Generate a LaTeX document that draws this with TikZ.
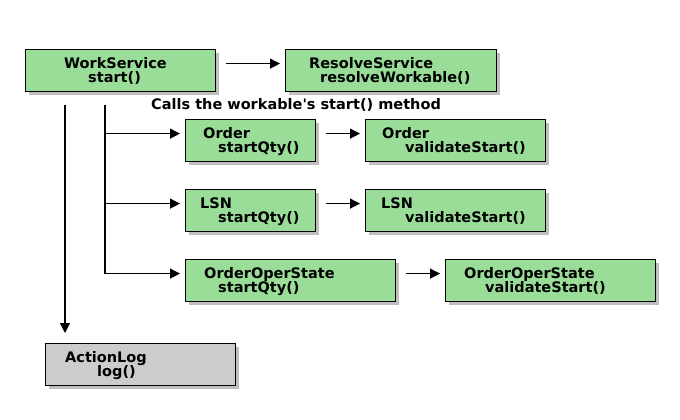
\documentclass[tikz,border=0pt]{standalone}
\usepackage{fontspec}
\newfontfamily\diafont{DejaVu Sans}
\usetikzlibrary{arrows.meta,shadows}
\definecolor{boxgreen}{HTML}{99DD99}
\definecolor{boxgrey}{HTML}{CCCCCC}
\tikzset{
  box/.style={draw, line width=1.2pt, fill=boxgreen, inner sep=0pt, anchor=north west,
    minimum height=42pt,
    drop shadow={shadow xshift=3pt, shadow yshift=-3pt, fill=black, opacity=0.25}},
  logbox/.style={box, fill=boxgrey},
  txt/.style={anchor=base west, inner sep=0pt, font=\diafont\bfseries\fontsize{14.5}{14}\selectfont},
  arr/.style={line width=1.2pt, -{Triangle[length=10pt,width=10pt]}},
}
\begin{document}
\begin{tikzpicture}[x=1pt,y=-1pt]
\useasboundingbox (0,0) rectangle (680,420);
% boxes
\node[box, minimum width=190pt] (work) at (25,49) {};
\node[box, minimum width=211pt] (resolve) at (285,49) {};
\node[box, minimum width=130pt] (ord) at (185,119) {};
\node[box, minimum width=180pt] (ordval) at (365,119) {};
\node[box, minimum width=130pt] (lsn) at (185,189) {};
\node[box, minimum width=180pt] (lsnval) at (365,189) {};
\node[box, minimum width=210pt] (oos) at (185,259) {};
\node[box, minimum width=210pt] (oosval) at (445,259) {};
\node[logbox, minimum width=190pt] (log) at (45,343) {};
% texts
\node[txt] (work-a) at (64,68) {WorkService};
\node[txt] (work-b) at (88,82) {start()};
\node[txt] (resolve-a) at (309,68) {ResolveService};
\node[txt] (resolve-b) at (320,82) {resolveWorkable()};
\node[txt] (calls) at (151,110) {Calls the workable's start() method};
\node[txt] (ord-a) at (203,138) {Order};
\node[txt] (ord-b) at (218,152) {startQty()};
\node[txt] (ordval-a) at (382,138) {Order};
\node[txt] (ordval-b) at (405,152) {validateStart()};
\node[txt] (lsn-a) at (200,208) {LSN};
\node[txt] (lsn-b) at (218,222) {startQty()};
\node[txt] (lsnval-a) at (381,208) {LSN};
\node[txt] (lsnval-b) at (405,222) {validateStart()};
\node[txt] (oos-a) at (204,278) {OrderOperState};
\node[txt] (oos-b) at (218,292) {startQty()};
\node[txt] (oosval-a) at (464,278) {OrderOperState};
\node[txt] (oosval-b) at (485,292) {validateStart()};
\node[txt] (log-a) at (65,362) {ActionLog};
\node[txt] (log-b) at (97,376) {log()};
% connectors
\coordinate (logtop) at (65,105);
\coordinate (split) at (105,105);
\draw[arr, shorten <=10pt, shorten >=5pt] ([yshift=7pt]work.east) -- ([yshift=7pt]resolve.west);
\draw[arr, shorten <=10pt, shorten >=5pt] ([yshift=7pt]ord.east) -- ([yshift=7pt]ordval.west);
\draw[arr, shorten <=10pt, shorten >=5pt] ([yshift=7pt]lsn.east) -- ([yshift=7pt]lsnval.west);
\draw[arr, shorten <=10pt, shorten >=5pt] ([yshift=7pt]oos.east) -- ([yshift=7pt]oosval.west);
\draw[arr, shorten >=5pt] (split) |- ([yshift=7pt]ord.west);
\draw[arr, shorten >=5pt] (split) |- ([yshift=7pt]lsn.west);
\draw[arr, shorten >=5pt] (split) |- ([yshift=7pt]oos.west);
\draw[arr, shorten >=10pt] (logtop) -- (logtop |- log.north);
\end{tikzpicture}
\end{document}
